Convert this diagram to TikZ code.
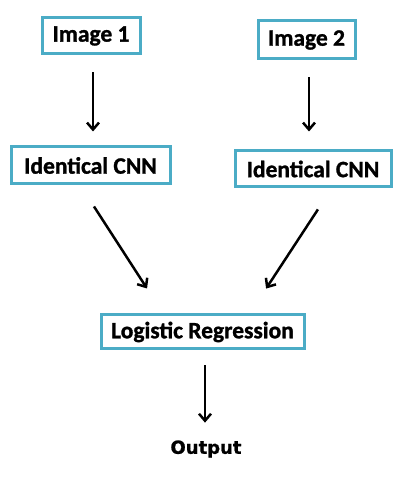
\documentclass[tikz,border=0pt]{standalone}
\usepackage{fontspec}
\setmainfont{Carlito}[BoldFeatures={FakeBold=1.2}]
\newfontfamily\outfont{DejaVu Sans}[BoldFeatures={FakeBold=1}]
\usepackage{tikz}
\usetikzlibrary{arrows.meta,positioning}
\definecolor{boxteal}{HTML}{4BACC6}

\begin{document}
\begin{tikzpicture}[x=1pt,y=1pt,
			stage/.style={draw=boxteal,line width=3pt,fill=white,inner sep=0pt,align=center,font=\fontsize{23.5}{27}\selectfont\bfseries},
			result/.style={inner sep=0pt,font=\outfont\fontsize{18}{21}\selectfont\bfseries},
			flow/.style={-{Straight Barb[length=7pt,width=12pt]},line width=2.5pt,black}
			]
			\useasboundingbox (0,0) rectangle (413,478);
			\node[stage,minimum width=98pt,minimum height=36pt] (img1) at (91,442) {Image 1};
			\node[stage,minimum width=97pt,minimum height=38pt] (img2) at (306.5,438) {Image 2};
			\node[stage,minimum width=159pt,minimum height=37pt] (cnn1) at (90.5,312.5) {Identical CNN};
			\node[stage,minimum width=156pt,minimum height=36pt] (cnn2) at (313,309) {Identical CNN};
			\node[stage,minimum width=203pt,minimum height=34pt] (logreg) at (202.5,146) {Logistic Regression};
			\node[result] (out) at (206,29) {Output};
			\draw[flow,shorten <=17pt,shorten >=14pt] ([xshift=2pt]img1.south) -- ([xshift=2.5pt]cnn1.north);
			\draw[flow,shorten <=17pt,shorten >=18pt] ([xshift=2.5pt]img2.south) -- ([xshift=-4pt]cnn2.north);
			\draw[flow,shorten <=25pt,shorten >=29.8pt] ([xshift=-10.1pt]cnn1.south) -- ([xshift=-39.3pt]logreg.north);
			\draw[flow,shorten <=25pt,shorten >=29.8pt] ([xshift=18.65pt]cnn2.south) -- ([xshift=47.25pt]logreg.north);
			\draw[flow,shorten <=15pt,shorten >=17.6pt] ([xshift=2.5pt]logreg.south) -- ([xshift=-1pt]out.north);
		\end{tikzpicture}
\end{document}
